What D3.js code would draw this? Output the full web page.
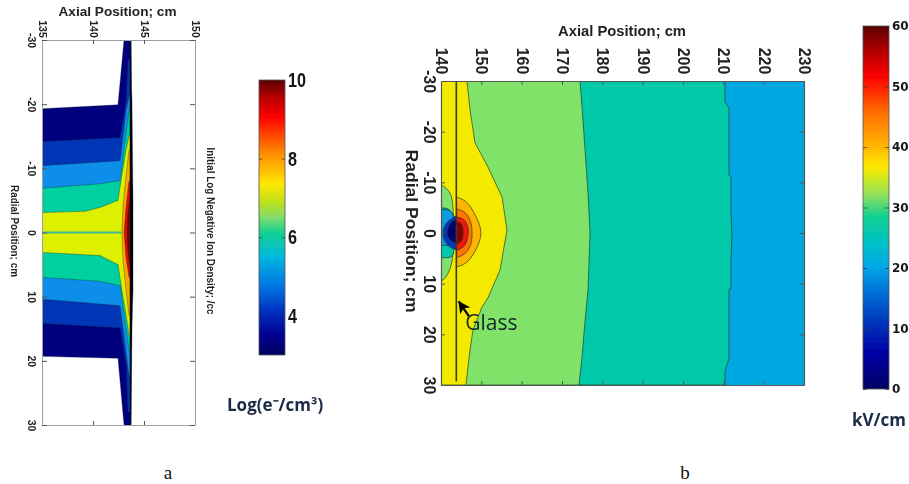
<!DOCTYPE html>
<html><head><meta charset="utf-8">
<script src="https://cdn.jsdelivr.net/npm/d3@7/dist/d3.min.js"></script>
<style>html,body{margin:0;padding:0;background:#fff;overflow:hidden}svg{display:block}</style>
</head><body><svg id="c" width="909" height="484"></svg>
<script>
// ---------- Panel a: contours of log ion density, [axial cm, radial cm]
const aAxial=[135,140,145,150], aRadial=[-30,-20,-10,0,10,20,30];
const aNavy=[[135,-19.3],[142.45,-19.9],[143.04,-30],[143.73,-30],[143.73,30],[143.04,30],[142.45,19.6],[135,19.3]];
const aBlue=[[135,-14.2],[142.65,-14.8],[143.24,-20.5],[143.43,-27],[143.63,-27],[143.63,28],[143.43,28],[143.24,20.5],[142.65,14.9],[135,14.2]];
const aLight=[[135,-10.4],[142.65,-11.2],[143.24,-19],[143.53,-21.3],[143.63,-21.3],[143.63,22.3],[143.53,22.3],[143.33,19.9],[142.65,11.4],[135,10.4]];
const aTeal=[[135,-6.9],[140.69,-7.6],[142.65,-8.1],[143.14,-14.3],[143.53,-19],[143.63,-19],[143.63,18.4],[143.53,18.4],[143.14,13.7],[142.65,8.3],[140.69,7.6],[135,7]];
const aYellow=[[135,-3.1],[139.22,-3.3],[140.69,-3.9],[142.45,-5],[142.75,-8.1],[143.24,-12.8],[143.53,-15.1],[143.63,-15.1],[143.63,16],[143.53,16],[143.33,13.7],[142.84,9],[142.45,5],[140.69,3.6],[135,3.1]];
const aOrange=[[143.53,-12.8],[143.24,-8.9],[142.94,-4.2],[142.84,0],[142.94,4.4],[143.24,9],[143.53,12.9],[143.63,12.9],[143.63,-12.8]];
const aRed=[[143.53,-8],[143.24,-4],[143.04,0],[143.24,4],[143.53,7],[143.63,7],[143.63,-8]];
const aDark=[[143.63,-5.5],[143.43,-3],[143.33,0],[143.43,3],[143.63,5.5]];
const aBlack=[[143.63,-30],[143.73,-30],[143.78,-22.5],[143.82,-20.6],[143.92,-5],[143.92,9],[143.82,15],[143.78,22],[143.73,30],[143.63,30]];
const aCentre=[[135,0],[142.8,0]];
const aBands=[[aNavy,"#00007f"],[aBlue,"#0535b5"],[aLight,"#0a8ee8"],[aTeal,"#00cf9f"],[aYellow,"#dcf000"],[aOrange,"#ffa400"],[aRed,"#e01000"],[aDark,"#7a0000"],[aBlack,"#000000"]];

// ---------- Panel b: contours of electric field
const bAxial=[140,150,160,170,180,190,200,210,220,230], bRadial=[-30,-20,-10,0,10,20,30];
const bTeal=[[140,-30],[210.42,-30],[210.42,-25.85],[211.41,-24.7],[211.41,-11.4],[211.9,-11],[211.9,-3.5],[212.15,0],[211.9,5.3],[211.9,11],[211.41,11.2],[211.41,24.7],[210.42,27.4],[210.42,30],[140,30]];
const bGreen=[[140,-30],[174.47,-30],[175.2,-22.3],[176.45,-7.9],[176.95,0],[176.45,11.2],[175.46,19.7],[174.96,24.5],[174.2,30],[140,30]];
const bYellow=[[140,-30],[146.45,-30],[147.2,-24.3],[148.43,-17.8],[151.65,-13],[155.13,-7.1],[156.37,-0.6],[154.63,7.3],[151.65,12.8],[150.17,14.6],[147.93,19.1],[147.2,23.1],[146.7,26.4],[146.2,30],[140,30]];
const bLobesLow=[
 [[[137,-10],[140,-9.5],[142.23,-7.9],[143,-4.5],[143,0],[142.8,5.3],[141.5,8.3],[140,9.5],[137,10]],"#80e070"],
 [[[137,-5],[140,-5],[142,-4.6],[143.3,-3],[143.97,0],[143.3,3],[142.7,4.6],[140,4.9],[137,5]],"#00c8a8"],
 [[[137,-4.7],[140,-4.7],[142.2,-4.4],[143.5,-2.5],[144,0],[143.5,1.5],[142.2,2.4],[140,2.4],[137,2.4]],"#0a9ae0"],
 [[[144.5,-3.4],[142.7,-2.9],[141,-1.5],[140.5,0],[141,1.7],[142.7,3],[144.5,3.2]],"#0638b8"],
 [[[144.5,-2.6],[142.7,-2.2],[141.6,-0.5],[141.6,0.5],[142.7,1.6],[144.5,1.9]],"#00006e"]];
const bLobesHigh=[
 [[[143,-6.9],[146,-6.3],[148.5,-3.5],[149.92,0],[148.5,3.5],[146,6],[143,6.5]],"#ffb400"],
 [[[143,-4.6],[146,-4],[147.4,-2],[147.69,0],[147.4,2.2],[146,4],[143,4.8]],"#ff7400"],
 [[[143,-3],[145.7,-2.6],[146.7,-1],[146.7,0.5],[145.7,2.6],[143,3.4]],"#ee1408"],
 [[[143,-2.2],[145,-1.8],[145.45,0],[145,1.6],[143,2.4]],"#8a0000"]];
const glassAxial=143.8;
const glassArrow=[[146.9,16.4],[144.4,13.5]];
const glassLabel=[146,19.2];

// ---------- Colour bars
const barATicks=[4,6,8,10], barADomain=[3,10];
const barAStops=[[3,"#000060"],[3.5,"#000090"],[4.1,"#0030c0"],[4.7,"#0070e0"],[5.5,"#00b8e0"],[6.09,"#10d090"],[6.5,"#80dc70"],[6.85,"#b8e020"],[7.36,"#ffe800"],[8.13,"#ff8c00"],[9.06,"#ff0000"],[9.6,"#b00000"],[10,"#5a0000"]];
const barBTicks=[0,10,20,30,40,50,60], barBDomain=[0,60];
const barBStops=[[0,"#000060"],[6,"#0000a8"],[10.5,"#0030b8"],[16,"#0070d8"],[20.3,"#00a8e8"],[24,"#00c0c8"],[28.5,"#10d090"],[32,"#90e060"],[34.6,"#c8e820"],[36.8,"#ffe800"],[40.5,"#ffb000"],[46,"#ff6a00"],[51.6,"#ff0000"],[56,"#b00000"],[60,"#5a0000"]];

const svg=d3.select("#c");
const defs=svg.append("defs");
defs.append("filter").attr("id","soft").attr("x","-5%").attr("y","-5%").attr("width","110%").attr("height","110%")
  .append("feGaussianBlur").attr("stdDeviation",0.55);
const root=svg.append("g").attr("filter","url(#soft)");
const SANS="'Liberation Sans',Arial,sans-serif";

function clip(id,x,y,w,h){defs.append("clipPath").attr("id",id).append("rect").attr("x",x).attr("y",y).attr("width",w).attr("height",h);}

function frame(g,box,x,y,xt,yt,o){
  const fmt=d=>String(d);
  const top=g.append("g").attr("transform",`translate(0,${box.t})`).call(d3.axisTop(x).tickValues(xt).tickFormat(fmt).tickSizeOuter(0).tickSizeInner(-o.tick));
  const bot=g.append("g").attr("transform",`translate(0,${box.b})`).call(d3.axisBottom(x).tickValues(xt).tickFormat("").tickSizeOuter(0).tickSizeInner(-o.tick));
  const lef=g.append("g").attr("transform",`translate(${box.l},0)`).call(d3.axisLeft(y).tickValues(yt).tickFormat(fmt).tickSizeOuter(0).tickSizeInner(-o.tickY));
  const rig=g.append("g").attr("transform",`translate(${box.r},0)`).call(d3.axisRight(y).tickValues(yt).tickFormat("").tickSizeOuter(0).tickSizeInner(-o.tickY));
  [top,bot,lef,rig].forEach(a=>{a.selectAll("path").attr("stroke",o.frame).attr("stroke-width",o.fw);a.selectAll("line").attr("stroke",o.tc).attr("stroke-width",1);});
  top.selectAll("text").attr("x",0).attr("y",0).attr("dy","0.35em").attr("text-anchor","middle")
    .attr("transform",`translate(0,${-o.xOff}) rotate(90)`).attr("font-family",SANS).attr("font-weight","bold").attr("font-size",o.fs).attr("fill","#222");
  lef.selectAll("text").attr("x",0).attr("y",0).attr("dy","0.35em").attr("text-anchor","middle")
    .attr("transform",`translate(${-o.yOff},0) rotate(90)`).attr("font-family",SANS).attr("font-weight","bold").attr("font-size",o.fs).attr("fill","#222");
}
function label(g,s,x,y,size,len,rot){
  g.append("text").attr("transform",`translate(${x},${y})`+(rot?" rotate(90)":"")).attr("text-anchor","middle").attr("dy","0.35em")
   .attr("font-family",SANS).attr("font-weight","bold").attr("font-size",size).attr("fill","#222")
   .attr("textLength",len).attr("lengthAdjust","spacingAndGlyphs").text(s);
}

// ---- panel a
{
  const box={l:42,r:195,t:40,b:425};
  const x=d3.scaleLinear().domain([135,150]).range([box.l,box.r]);
  const y=d3.scaleLinear().domain([-30,30]).range([box.t,box.b]);
  clip("cpA",box.l,box.t,box.r-box.l,box.b-box.t);
  const g=root.append("g");
  const line=d3.line().x(d=>x(d[0])).y(d=>y(d[1]));
  const pl=g.append("g").attr("clip-path","url(#cpA)");
  aBands.forEach(([pts,col])=>{
    pl.append("path").attr("d",line(pts)+"Z").attr("fill",col).attr("stroke","#10202a").attr("stroke-opacity",0.55).attr("stroke-width",0.6);
  });
  pl.append("path").attr("d",line(aCentre)).attr("stroke","#3fb79a").attr("stroke-width",2).attr("fill","none");
  frame(g,box,x,y,aAxial,aRadial,{tick:4,tickY:5,frame:"#a0a0a0",fw:1,tc:"#555",fs:10.5,xOff:11,yOff:10});
  label(g,"Axial Position; cm",117.5,11.5,12,118);
  label(g,"Radial Position; cm",15,231,11,92,true);
  label(g,"Initial Log Negative Ion Density; /cc",211,231,11,167,true);
}
// ---- panel b
{
  const box={l:441,r:804,t:81,b:385};
  const x=d3.scaleLinear().domain([140,230]).range([box.l,box.r]);
  const y=d3.scaleLinear().domain([-30,30]).range([box.t,box.b]);
  clip("cpB",box.l,box.t,box.r-box.l,box.b-box.t);
  clip("cpBL",box.l,box.t,x(glassAxial)-box.l,box.b-box.t);
  clip("cpBR",x(glassAxial),box.t,box.r-x(glassAxial),box.b-box.t);
  const g=root.append("g");
  const line=d3.line().x(d=>x(d[0])).y(d=>y(d[1]));
  const blob=d3.line().x(d=>x(d[0])).y(d=>y(d[1])).curve(d3.curveCatmullRomClosed.alpha(0.5));
  const pl=g.append("g").attr("clip-path","url(#cpB)");
  const st=(s)=>s.attr("stroke","#1c3a2a").attr("stroke-opacity",0.85).attr("stroke-width",0.8);
  pl.append("rect").attr("x",box.l).attr("y",box.t).attr("width",box.r-box.l).attr("height",box.b-box.t).attr("fill","#05a8e2");
  st(pl.append("path").attr("d",line(bTeal)+"Z").attr("fill","#00c9a9"));
  st(pl.append("path").attr("d",line(bGreen)+"Z").attr("fill","#80e268"));
  st(pl.append("path").attr("d",line(bYellow)+"Z").attr("fill","#f3ea00"));
  const low=pl.append("g").attr("clip-path","url(#cpBL)");
  bLobesLow.forEach(([pts,c])=>st(low.append("path").attr("d",blob(pts)).attr("fill",c)));
  const high=pl.append("g").attr("clip-path","url(#cpBR)");
  bLobesHigh.forEach(([pts,c])=>st(high.append("path").attr("d",blob(pts)).attr("fill",c)));
  pl.append("line").attr("x1",x(glassAxial)).attr("x2",x(glassAxial)).attr("y1",box.t).attr("y2",y(29.3)).attr("stroke","#3a3a14").attr("stroke-width",1.6);
  frame(g,box,x,y,bAxial,bRadial,{tick:4,tickY:4,frame:"#555",fw:1.2,tc:"#555",fs:16,xOff:20,yOff:11});
  label(g,"Axial Position; cm",622,31,15,128);
  label(g,"Radial Position; cm",412,231,17,163,true);
  const [a0,a1]=glassArrow;
  defs.append("marker").attr("id","arr").attr("markerUnits","userSpaceOnUse").attr("viewBox","0 0 10 10").attr("refX",9.5).attr("refY",5).attr("markerWidth",13).attr("markerHeight",12).attr("orient","auto")
    .append("path").attr("d","M0,0L10,5L0,10L2.5,5Z").attr("fill","#000");
  g.append("line").attr("x1",x(a0[0])).attr("y1",y(a0[1])).attr("x2",x(a1[0])).attr("y2",y(a1[1])).attr("stroke","#000").attr("stroke-width",2.2).attr("marker-end","url(#arr)");
  g.append("text").attr("x",x(glassLabel[0])).attr("y",y(glassLabel[1])).attr("font-family","'Open Sans',sans-serif").attr("font-size",21).attr("fill","#14262e").text("Glass");
}
// ---- colour bars
function bar(id,box,dom,stops,ticks,fs,fam,lx,inner,narrow){
  const v=d3.scaleLinear().domain(dom).range([box.b,box.t]);
  const col=d3.scaleLinear().domain(stops.map(d=>d[0])).range(stops.map(d=>d[1]));
  const grad=defs.append("linearGradient").attr("id",id).attr("gradientUnits","userSpaceOnUse").attr("x1",0).attr("x2",0).attr("y1",box.b).attr("y2",box.t);
  stops.forEach(s=>grad.append("stop").attr("offset",(s[0]-dom[0])/(dom[1]-dom[0])).attr("stop-color",col(s[0])));
  const g=root.append("g");
  g.append("rect").attr("x",box.l).attr("y",box.t).attr("width",box.r-box.l).attr("height",box.b-box.t).attr("fill",`url(#${id})`).attr("stroke","#555").attr("stroke-width",0.8);
  const ax=g.append("g").attr("transform",`translate(${box.r},0)`).call(d3.axisRight(v).tickValues(ticks).tickSizeOuter(0).tickSizeInner(-inner).tickFormat(d=>String(d)));
  ax.select("path").remove();
  ax.selectAll("line").attr("stroke","#333").attr("stroke-opacity",0.7);
  const ax2=g.append("g").attr("transform",`translate(${box.l},0)`).call(d3.axisLeft(v).tickValues(ticks).tickSizeOuter(0).tickSizeInner(-inner).tickFormat(""));
  ax2.select("path").remove();
  ax2.selectAll("line").attr("stroke","#333").attr("stroke-opacity",0.7);
  const t=ax.selectAll("text").attr("x",lx-box.r).attr("text-anchor","start").attr("font-family",fam).attr("font-weight","bold").attr("font-size",fs).attr("fill","#151515");
  if(narrow) t.attr("textLength",d=>String(d).length*narrow).attr("lengthAdjust","spacingAndGlyphs");
}
bar("gA",{l:259,r:285,t:80,b:355},barADomain,barAStops,barATicks,21,SANS,288,3,9);
bar("gB",{l:863,r:889,t:26,b:389},barBDomain,barBStops,barBTicks,12,"'DejaVu Sans',sans-serif",892,4,0);

// ---- captions
root.append("text").attr("x",227).attr("y",411).attr("font-family","'Open Sans',sans-serif").attr("font-weight","bold").attr("font-size",17).attr("fill","#1c2c44").text("Log(e⁻/cm³)");
root.append("text").attr("x",852).attr("y",426).attr("font-family","'Open Sans',sans-serif").attr("font-weight","bold").attr("font-size",17).attr("fill","#1c2c44").text("kV/cm");
svg.append("text").attr("x",168).attr("y",479).attr("text-anchor","middle").attr("font-family","'Liberation Serif',serif").attr("font-size",19).attr("fill","#111").text("a");
svg.append("text").attr("x",685).attr("y",479).attr("text-anchor","middle").attr("font-family","'Liberation Serif',serif").attr("font-size",19).attr("fill","#111").text("b");
</script></body></html>
